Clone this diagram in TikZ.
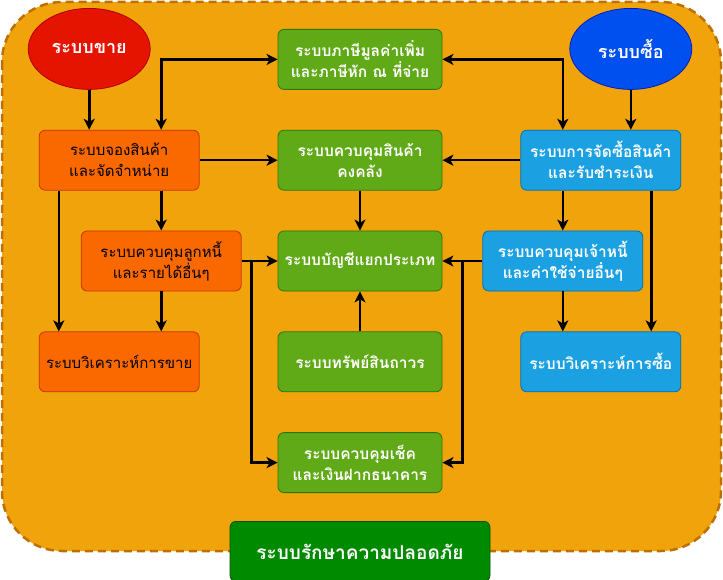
\documentclass[tikz,border=0pt]{standalone}
\usepackage{fontspec}
\setmainfont{Loma}[Script=Thai]
\usetikzlibrary{positioning}
\usetikzlibrary{arrows.meta}
\usetikzlibrary{shapes.geometric}

\definecolor{panelfill}{HTML}{F0A30A}
\definecolor{paneldraw}{HTML}{BD7000}
\definecolor{redfill}{HTML}{E51400}
\definecolor{reddraw}{HTML}{B20000}
\definecolor{navyfill}{HTML}{0050EF}
\definecolor{navydraw}{HTML}{001DBC}
\definecolor{orangefill}{HTML}{FA6800}
\definecolor{orangedraw}{HTML}{C73500}
\definecolor{greenfill}{HTML}{60A917}
\definecolor{greendraw}{HTML}{2D7600}
\definecolor{bluefill}{HTML}{1BA1E2}
\definecolor{bluedraw}{HTML}{006EAF}
\definecolor{darkfill}{HTML}{008A00}
\definecolor{darkdraw}{HTML}{005700}

\begin{document}
\begin{tikzpicture}[
        x=1pt, y=-1pt,
        node distance=40pt and 78pt,
        box/.style={rectangle, draw, line width=0.8pt, minimum width=160pt, minimum height=60pt, text width=156pt, inner sep=2pt, text centered, rounded corners=6pt, font=\fontsize{15}{21}\selectfont},
        sales/.style={box, fill=orangefill, draw=orangedraw, text=black},
        ledger/.style={box, fill=greenfill, draw=greendraw, text=white, font=\fontsize{15.5}{21}\selectfont\bfseries, minimum width=164pt, text width=160pt},
        purchase/.style={box, fill=bluefill, draw=bluedraw, text=white, font=\fontsize{15.5}{21}\selectfont\bfseries},
        secure/.style={box, fill=darkfill, draw=darkdraw, text=white, font=\fontsize{19}{21}\selectfont\bfseries, minimum width=260pt, text width=256pt},
        head/.style={ellipse, draw, line width=0.8pt, minimum width=122pt, minimum height=81pt, text=white, font=\fontsize{18}{21}\selectfont\bfseries},
        arrow/.style={line width=2.6pt, ->, >={Stealth[length=11pt,width=11pt,inset=3pt]}},
        panel/.style={draw=paneldraw, fill=panelfill, line width=2.5pt, dash pattern=on 8pt off 5pt, rounded corners=60pt}
    ]
        \useasboundingbox (0,0) rectangle (723,580);
        \draw[panel] (2,2) rectangle (721,551);

        % Middle column
        \node[ledger] (gl) at (360,261) {ระบบบัญชีแยกประเภท};
        \node[ledger] (inv) [above=of gl] {ระบบควบคุมสินค้า\\คงคลัง};
        \node[ledger] (vat) [above=of inv] {ระบบภาษีมูลค่าเพิ่ม\\และภาษีหัก ณ ที่จ่าย};
        \node[ledger] (fa) [below=of gl] {ระบบทรัพย์สินถาวร};
        \node[ledger] (chq) [below=of fa] {ระบบควบคุมเช็ค\\และเงินฝากธนาคาร};
        \node[secure] (sec) [below=28pt of chq] {ระบบรักษาความปลอดภัย};

        % Sales side
        \node[sales] (so) [left=of inv] {ระบบจองสินค้า\\และจัดจำหน่าย};
        \node[sales] (ar) [left=36pt of gl] {ระบบควบคุมลูกหนี้\\และรายได้อื่นๆ};
        \node[sales] (sa) [left=of fa] {ระบบวิเคราะห์การขาย};
        \node[head, fill=redfill, draw=reddraw] (sell) [above=of so, xshift=-30pt] {ระบบขาย};

        % Purchase side
        \node[purchase] (pu) [right=of inv] {ระบบการจัดซื้อสินค้า\\และรับชำระเงิน};
        \node[purchase] (ap) [right=40pt of gl] {ระบบควบคุมเจ้าหนี้\\และค่าใช้จ่ายอื่นๆ};
        \node[purchase] (pa) [right=of fa] {ระบบวิเคราะห์การซื้อ};
        \node[head, fill=navyfill, draw=navydraw] (buy) [above=of pu, xshift=30pt] {ระบบซื้อ};

        % Connections
        \draw[arrow] (sell) -- (sell |- so.north);
        \draw[arrow] (buy) -- (buy |- pu.north);
        \draw[arrow, <->] (vat) -| (ar |- so.north);
        \draw[arrow, <->] (vat) -| (ap |- pu.north);
        \draw[arrow] (so) -- (inv);
        \draw[arrow] (pu) -- (inv);
        \draw[arrow] (inv) -- (gl);
        \draw[arrow] (fa) -- (gl);
        \draw[arrow] (ar) -- (gl);
        \draw[arrow] (ap) -- (gl);

        % Sales flow
        \draw[arrow] ([xshift=20pt]so.south west) -- ([xshift=20pt]sa.north west);
        \draw[arrow] (ar |- so.south) -- (ar);
        \draw[arrow] (ar) -- (ar |- sa.north);
        \draw[arrow] (ar.east) -- ++(10pt,0pt) |- (chq);

        % Purchase flow
        \draw[arrow] (ap |- pu.south) -- (ap);
        \draw[arrow] (ap) -- (ap |- pa.north);
        \draw[arrow] ([xshift=-30pt]pu.south east) -- ([xshift=-30pt]pa.north east);
        \draw[arrow] (ap.west) -- ++(-20pt,0pt) |- (chq);
    \end{tikzpicture}
\end{document}
